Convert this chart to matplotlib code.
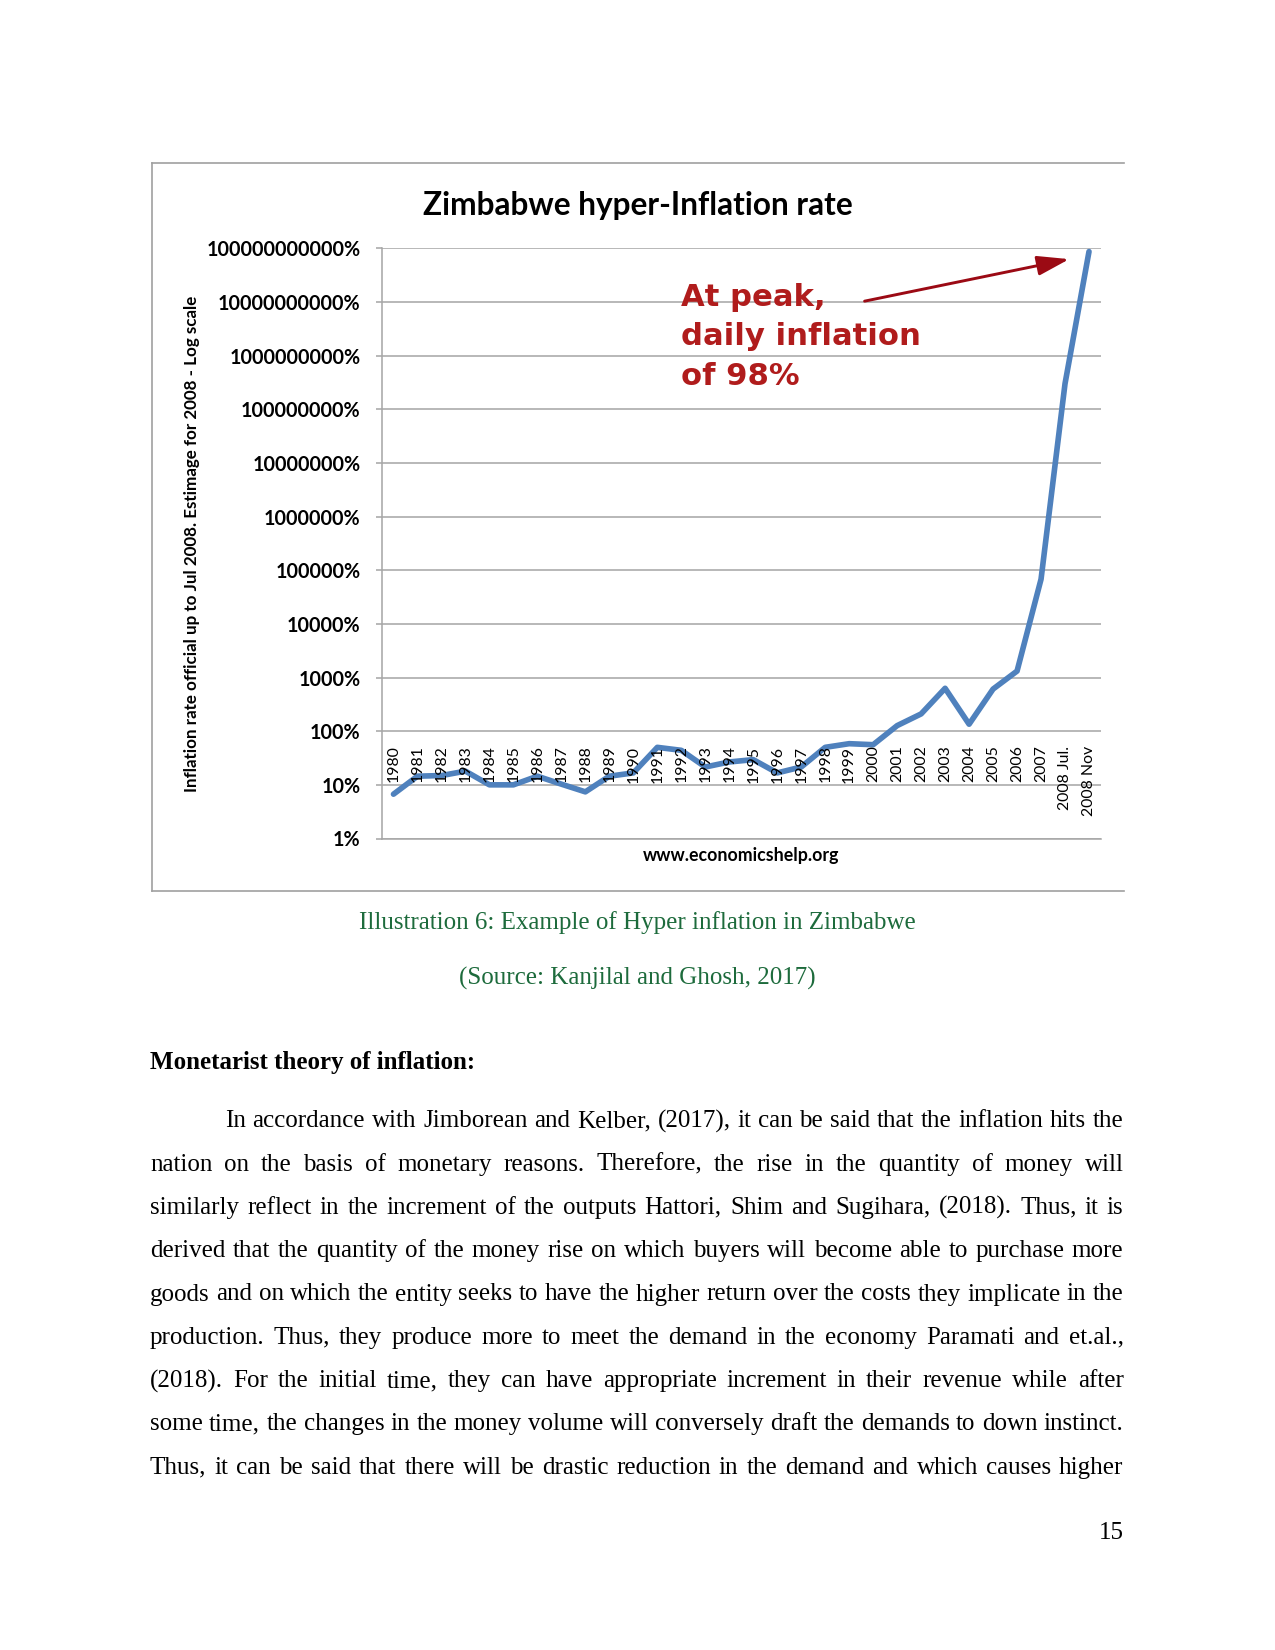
import matplotlib
matplotlib.use("Agg")
import matplotlib.pyplot as plt
from matplotlib.lines import Line2D
from matplotlib.ticker import FixedLocator, FixedFormatter, NullLocator

# page size in pixels (letter page at 150 dpi)
W, H = 1275, 1650
DPI = 150

# chart data (percent per year, log scale)
years = ["1980", "1981", "1982", "1983", "1984", "1985", "1986", "1987", "1988", "1989",
         "1990", "1991", "1992", "1993", "1994", "1995", "1996", "1997", "1998", "1999",
         "2000", "2001", "2002", "2003", "2004", "2005", "2006", "2007", "2008 Jul.", "2008 Nov"]
inflation = [6.7, 14.5, 14.9, 18, 10, 10, 14.5, 10.3, 7.4, 14.5,
             16.7, 50, 44, 21.5, 26.7, 29.5, 16.7, 21.5, 50, 58.5,
             56, 127, 210, 630, 135, 610, 1320, 68000, 3e8, 8.7e10]
ytick_values = [1e0, 1e1, 1e2, 1e3, 1e4, 1e5, 1e6, 1e7, 1e8, 1e9, 1e10, 1e11]
ytick_labels = ["1%", "10%", "100%", "1000%", "10000%", "100000%", "1000000%",
                "10000000%", "100000000%", "1000000000%", "10000000000%", "100000000000%"]

title = "Zimbabwe hyper-Inflation rate"
ylabel = "Inflation rate official up to Jul 2008. Estimage for 2008 - Log scale"
xlabel = "www.economicshelp.org"
note_lines = ["At peak,", "daily inflation", "of 98%"]

caption = ["Illustration 6: Example of Hyper inflation in Zimbabwe",
           "(Source: Kanjilal and Ghosh, 2017)"]
heading = "Monetarist theory of inflation:"
paragraph = [
    "In accordance with Jimborean and Kelber, (2017), it can be said that the inflation hits the",
    "nation on the basis of monetary reasons. Therefore, the rise in the quantity of money will",
    "similarly reflect in the increment of the outputs Hattori, Shim and Sugihara, (2018). Thus, it is",
    "derived that the quantity of the money rise on which buyers will become able to purchase more",
    "goods and on which the entity seeks to have the higher return over the costs they implicate in the",
    "production. Thus, they produce more to meet the demand in the economy Paramati and et.al.,",
    "(2018). For the initial time, they can have appropriate increment in their revenue while after",
    "some time, the changes in the money volume will conversely draft the demands to down instinct.",
    "Thus, it can be said that there will be drastic reduction in the demand and which causes higher",
]
page_no = "15"

CHART_FONT = ["Lato", "DejaVu Sans"]
SERIF = ["Liberation Serif", "DejaVu Serif"]
GRID = "#A6A6A6"
BODY = 12


def fx(x):
    return x / W


def fy(y):
    return 1 - y / H


fig = plt.figure(figsize=(W / DPI, H / DPI), dpi=DPI)
fig.patch.set_facecolor("white")
renderer = fig.canvas.get_renderer()

# ---- chart frame (left, top, bottom edges of the pasted image)
for xs, ys in [((151.7, 151.7), (162.7, 890.7)),
               ((151.7, 1123.5), (162.7, 162.7)),
               ((151.7, 1123.5), (890.7, 890.7))]:
    fig.add_artist(Line2D([fx(x) for x in xs], [fy(y) for y in ys], color="#A0A0A0", lw=0.8))

# ---- the plot
left, right, top, bottom = 381.5, 1101, 248.3, 838.5
ax = fig.add_axes([fx(left), fy(bottom), (right - left) / W, (bottom - top) / H])
ax.set_yscale("log")
ax.set_ylim(ytick_values[0], ytick_values[-1])
ax.set_xlim(-0.5, len(years) - 0.5)
ax.plot(range(len(years)), inflation, color="#4F81BD", lw=2.7,
        solid_joinstyle="round", solid_capstyle="round", zorder=3, clip_on=False)

ax.yaxis.set_major_locator(FixedLocator(ytick_values))
ax.yaxis.set_major_formatter(FixedFormatter(ytick_labels))
ax.yaxis.set_minor_locator(NullLocator())
ax.set_xticks([])
ax.yaxis.grid(True, color=GRID, lw=0.75)
ax.set_axisbelow(True)
for s in ["top", "right"]:
    ax.spines[s].set_visible(False)
for s in ["left", "bottom"]:
    ax.spines[s].set_color(GRID)
    ax.spines[s].set_linewidth(0.75)
ax.tick_params(axis="y", length=2.9, width=0.75, color=GRID, pad=7.2)
for lab in ax.get_yticklabels():
    lab.set_family(CHART_FONT)
    lab.set_fontweight("bold")
    lab.set_fontsize(9.5)

# category labels sit just under the 100% line, rotated
for i, yr in enumerate(years):
    ax.annotate(yr, xy=(i, 100), xytext=(0, -6.9), textcoords="offset points",
                rotation=90, ha="center", va="top", fontsize=7.6, family=CHART_FONT)

fig.text(fx(638), fy(205), title, ha="center", va="center", fontsize=15.2,
         fontweight="bold", family=CHART_FONT)
fig.text(fx(192.5), fy(544), ylabel, ha="center", va="center", rotation=90,
         fontsize=8.2, fontweight="bold", family=CHART_FONT)
fig.text(fx(741), fy(855), xlabel, ha="center", va="center", fontsize=8.5,
         fontweight="bold", family=CHART_FONT)

# callout
for k, line in enumerate(note_lines):
    fig.text(fx(680.6), fy(305.5 + k * 39.7), line, ha="left", va="baseline",
             fontsize=14.7, fontweight="bold", family=["DejaVu Sans"], color="#B01C1C")
ax.annotate("", xy=(1073.3, H - 258.3), xytext=(860.5, H - 302), xycoords="figure pixels",
            textcoords="figure pixels",
            arrowprops=dict(arrowstyle="-|>,head_length=0.65,head_width=0.2",
                            mutation_scale=20, color="#9B0A14", lw=1.4))

# ---- document text
GREEN = "#1D6B3C"
fig.text(fx(637.5), fy(929), caption[0], ha="center", va="baseline", fontsize=BODY,
         family=SERIF, color=GREEN)
fig.text(fx(637.5), fy(985), caption[1], ha="center", va="baseline", fontsize=BODY,
         family=SERIF, color=GREEN)
fig.text(fx(150), fy(1069.5), heading, ha="left", va="baseline", fontsize=BODY,
         fontweight="bold", family=SERIF)


def justify(line, x0, x1, y, size):
    words = line.split()
    arts = [fig.text(0, 0, w, fontsize=size, family=SERIF, va="baseline", ha="left") for w in words]
    widths = [a.get_window_extent(renderer=renderer).width for a in arts]
    gap = (x1 - x0 - sum(widths)) / (len(words) - 1)
    x = x0
    for a, w in zip(arts, widths):
        a.set_position((fx(x), fy(y)))
        x += w + gap


for k, line in enumerate(paragraph):
    x0 = 225 if k == 0 else 150
    justify(line, x0, 1123.5, 1127.3 + k * 43.3, BODY)

fig.text(fx(1123.5), fy(1539), page_no, ha="right", va="baseline", fontsize=BODY, family=SERIF)

fig.savefig("out.png", dpi=DPI, facecolor="white")
